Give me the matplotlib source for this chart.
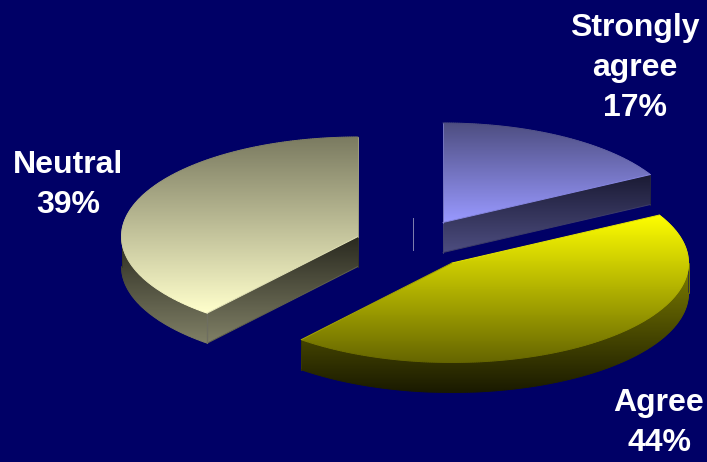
import numpy as np
import matplotlib
matplotlib.use("Agg")
import matplotlib.pyplot as plt
from matplotlib.collections import LineCollection
from matplotlib.colors import LinearSegmentedColormap
from matplotlib.path import Path
from matplotlib.patches import PathPatch

# Survey responses, in clockwise order from twelve o'clock
categories = ["Strongly\nagree", "Agree", "Neutral"]
shares = [17, 44, 39]

BACKGROUND = "#000066"
WHITE = "#ffffff"

# Exploded position and shading of each slice
centers = [(443, 222.5), (452, 263), (358, 236.5)]
top_shades = [("#4d4d80", "#9999ff"), ("#ffff00", "#666600"), ("#7a7a60", "#ffffcc")]
side_shades = [("#1a1a33", "#4d4d80"), ("#808000", "#1a1a00"), ("#29291f", "#808066")]
label_positions = [(635, 68), (659, 423), (68, 185)]

RX, RY, DEPTH = 236.5, 99.5, 30


def rim(cx, cy, start, stop, drop=0):
    """Points on the elliptical rim; angles run clockwise from the top, in degrees."""
    t = np.radians(np.linspace(start, stop, max(int(abs(stop - start)) * 2, 2)))
    return np.column_stack([cx + RX * np.sin(t), cy - RY * np.cos(t) + drop])


def closed_path(rings):
    verts, codes = [], []
    for ring in rings:
        ring = np.vstack([ring, ring[:1]])
        verts.append(ring)
        codes += [Path.MOVETO] + [Path.LINETO] * (len(ring) - 2) + [Path.CLOSEPOLY]
    return Path(np.vstack(verts), codes)


def gradient_fill(ax, path, rings, colors, zorder):
    """Paint a vertical two-colour gradient across the extent of a path."""
    x0, y0 = path.vertices.min(axis=0)
    x1, y1 = path.vertices.max(axis=0)
    cmap = LinearSegmentedColormap.from_list("shade", colors)
    ramp = np.linspace(0, 1, 256).reshape(-1, 1)
    image = ax.imshow(ramp, cmap=cmap, extent=(x0, x1, y1, y0), aspect="auto",
                      interpolation="bilinear", zorder=zorder)
    image.set_clip_path(PathPatch(path, transform=ax.transData))
    # Outline each ring in the local gradient colour so the clipped edge stays smooth
    for ring in rings:
        ring = np.vstack([ring, ring[:1]])
        segments = np.stack([ring[:-1], ring[1:]], axis=1)
        mid_y = segments[:, :, 1].mean(axis=1)
        ax.add_collection(LineCollection(segments, colors=cmap((mid_y - y0) / (y1 - y0)),
                                         linewidths=0.7, capstyle="round", zorder=zorder))


fig = plt.figure(figsize=(7.07, 4.62), dpi=100, facecolor=BACKGROUND)
ax = fig.add_axes([0, 0, 1, 1])
ax.set_facecolor(BACKGROUND)

edges = np.concatenate([[0], np.cumsum(shares)]) / np.sum(shares) * 360

for i in (2, 0, 1):
    start, stop = edges[i], edges[i + 1]
    cx, cy = centers[i]
    rings = []

    # Cut faces turned toward the viewer
    for angle, visible in ((start, np.sin(np.radians(start)) < -1e-9),
                           (stop, np.sin(np.radians(stop)) > 1e-9)):
        if visible:
            p = rim(cx, cy, angle, angle)[0]
            rings.append(np.array([[cx, cy], p, p + [0, DEPTH], [cx, cy + DEPTH]]))

    # Outer wall along the front half of the rim
    lo, hi = max(start, 90), min(stop, 270)
    if lo < hi:
        rings.append(np.vstack([rim(cx, cy, lo, hi), rim(cx, cy, hi, lo, DEPTH)]))

    if rings:
        gradient_fill(ax, closed_path(rings), rings, side_shades[i], zorder=2 + i)
        if i == 2:
            p = rim(cx, cy, start, start)[0]
            ax.plot([p[0], p[0]], [p[1], p[1] + DEPTH], color="#6e6e60", lw=1.0,
                    zorder=2 + i, solid_capstyle="butt")

    top_ring = np.vstack([[cx, cy], rim(cx, cy, start, stop)])
    gradient_fill(ax, closed_path([top_ring]), [top_ring], top_shades[i], zorder=2.5 + i)

# Thin leader remnant between the slices
ax.plot([413, 413], [218, 250], color="#8080b0", lw=0.7, zorder=1)

for name, share, (x, y) in zip(categories, shares, label_positions):
    ax.text(x, y, f"{name}\n{share}%", color=WHITE, ha="center", va="center",
            fontsize=23, fontweight="bold", family="Liberation Sans", linespacing=1.42,
            zorder=10)

ax.set_xlim(0, 707)
ax.set_ylim(462, 0)
ax.axis("off")
fig.savefig("out.png", dpi=100, facecolor=BACKGROUND)
